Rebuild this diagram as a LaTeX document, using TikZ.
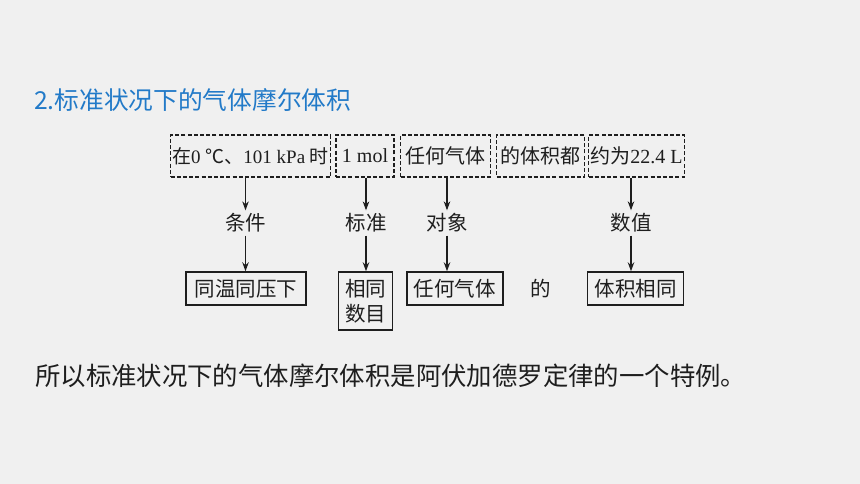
\documentclass[tikz,border=0pt]{standalone}
\usepackage{fontspec}
\setmainfont{Liberation Serif}
\newfontfamily\cjk{Noto Sans CJK SC}
\usetikzlibrary{arrows.meta}
\definecolor{bgc}{RGB}{240,240,240}
\definecolor{ink}{RGB}{30,30,30}
\definecolor{titleblue}{RGB}{34,122,200}
\tikzset{
  dbox/.style={draw=ink, dashed, dash pattern=on 4pt off 2.2pt, line width=1.2pt, minimum height=42pt, inner sep=0pt, font=\fontsize{20}{22}\selectfont, text=ink},
  sbox/.style={draw=ink, line width=1.5pt, minimum height=33pt, inner sep=0pt, font=\cjk\fontsize{20.5}{25}\selectfont, text=ink, align=center},
  lab/.style={inner sep=3pt, font=\cjk\fontsize{20.5}{22}\selectfont, text=ink},
  arr/.style={draw=ink, line width=1.1pt, -{Stealth[length=9pt,width=6.5pt]}}
}
\begin{document}
\begin{tikzpicture}[x=1pt,y=-1pt]
\fill[bgc] (0,0) rectangle (860,484);
\useasboundingbox (0,0) rectangle (860,484);
% title
\node[anchor=west, inner sep=0pt, text=titleblue, font=\cjk\fontsize{24.7}{26}\selectfont] (title) at (34,100) {2.标准状况下的气体摩尔体积};
% dashed boxes
\node[dbox, minimum width=160pt, font=\fontsize{19}{22}\selectfont] (d1) at (250.6,156) {{\cjk 在}0 {\cjk ℃、}101 kPa {\cjk 时}};
\node[dbox, minimum width=58pt] (d2) at (365,156) {1 mol};
\node[dbox, minimum width=90pt] (d3) at (445.5,156) {\cjk 任何气体};
\node[dbox, minimum width=88pt] (d4) at (540.5,156) {\cjk 的体积都};
\node[dbox, minimum width=96pt] (d5) at (636.5,156) {{\cjk 约为}22.4 L};
% labels
\node[lab] (l1) at (245.5,223) {条件};
\node[lab] (l2) at (366,223) {标准};
\node[lab] (l3) at (447,223) {对象};
\node[lab] (l4) at (631,223) {数值};
% solid boxes
\node[sbox, minimum width=120pt] (b1) at (246,288.5) {同温同压下};
\node[sbox, minimum width=54pt, minimum height=58pt] (b2) at (365.7,301) {相同\\数目};
\node[sbox, minimum width=96pt] (b3) at (454.8,288.5) {任何气体};
\node[lab] (de) at (541,289) {的};
\node[sbox, minimum width=96pt] (b4) at (635.7,288.5) {体积相同};
% arrows
\draw[arr] (d1.south -| l1) -- (l1.north);
\draw[arr] (d2.south -| l2) -- (l2.north);
\draw[arr] (d3.south -| l3) -- (l3.north);
\draw[arr] (d5.south -| l4) -- (l4.north);
\draw[arr] (l1.south) -- (b1.north -| l1);
\draw[arr] (l2.south) -- (b2.north -| l2);
\draw[arr] (l3.south) -- (b3.north -| l3);
\draw[arr] (l4.south) -- (b4.north -| l4);
% bottom sentence
\node[anchor=west, inner sep=0pt, text=ink, font=\cjk\fontsize{25.4}{28}\selectfont] (concl) at (35,376) {所以标准状况下的气体摩尔体积是阿伏加德罗定律的一个特例。};
\end{tikzpicture}
\end{document}
